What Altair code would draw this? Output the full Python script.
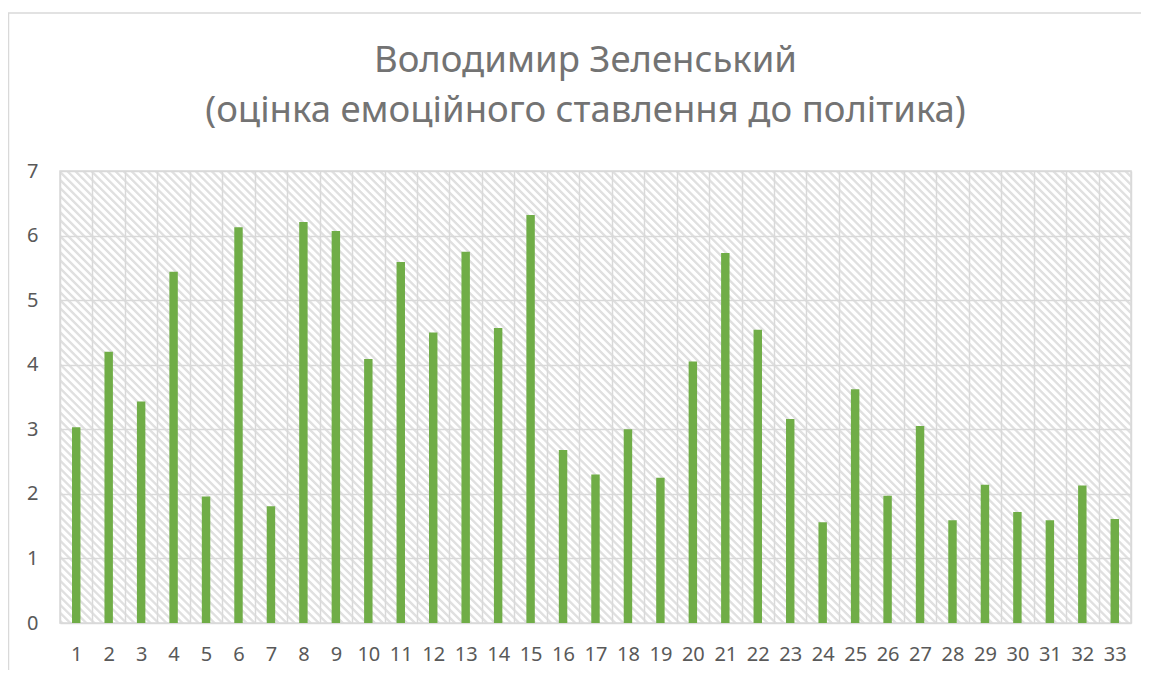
import math
import altair as alt
import pandas as pd

# ---- data ----
categories = [str(i) for i in range(1, 34)]
scores = [3.03, 4.20, 3.43, 5.44, 1.96, 6.13, 1.81, 6.21, 6.07, 4.09,
          5.59, 4.50, 5.75, 4.57, 6.32, 2.68, 2.30, 3.00, 2.25, 4.05,
          5.73, 4.54, 3.16, 1.56, 3.62, 1.97, 3.05, 1.59, 2.14, 1.72,
          1.59, 2.13, 1.61]
y_ticks = [0, 1, 2, 3, 4, 5, 6, 7]
title_lines = ["Володимир Зеленський", "(оцінка емоційного ставлення до політика)"]

W, H = 1071, 452
FONT = "Noto Sans"
GRID = "#d9d9d9"
TEXT = "#595959"


def hatch_expr(w, h, period=5.66, ink="#e0e0e0", paper="#ffffff"):
    """Diagonal '\\' stripes as a repeating linear gradient (objectBoundingBox units)."""
    t = (1 / h + 1 / w) / (1 / h ** 2 + 1 / w ** 2)
    x2 = t / h
    y2 = 1 - t / w
    length = (w + h) / math.sqrt(2)
    n = int(round(length / period))
    stops = []
    for k in range(n):
        o = k / n
        for frac, col in ((0.0, paper), (0.15, ink), (0.42, ink), (0.57, paper)):
            stops.append("{offset:%.6f,color:'%s'}" % (o + frac / n, col))
    stops.append("{offset:1,color:'%s'}" % paper)
    return "{gradient:'linear',x1:0,y1:1,x2:%.6f,y2:%.6f,stops:[%s]}" % (
        x2, y2, ",".join(stops))


df = pd.DataFrame({"n": categories, "score": scores})

bars = alt.Chart(df).mark_bar(
    color="#70ad47", width=alt.RelativeBandSize(band=0.26)
).encode(
    x=alt.X(
        "n:N",
        sort=categories,
        scale=alt.Scale(paddingInner=0, paddingOuter=0),
        axis=alt.Axis(
            title=None, labelAngle=0, ticks=False, domain=False, grid=True,
            tickBand="extent", gridColor=GRID, gridWidth=1.5,
            labelFont=FONT, labelFontSize=20, labelColor=TEXT, labelPadding=21,
        ),
    ),
    y=alt.Y(
        "score:Q",
        scale=alt.Scale(domain=[0, 7], nice=False),
        axis=alt.Axis(
            title=None, values=y_ticks, ticks=False, domain=False, grid=True,
            gridColor=GRID, gridWidth=1.5,
            labelFont=FONT, labelFontSize=20, labelColor=TEXT, labelPadding=22,
        ),
    ),
)

frame = alt.Chart(alt.Data(values=[{"k": 0}])).mark_rect(
    fillOpacity=0, stroke=GRID, strokeWidth=1.5
).encode(
    x=alt.value(-51.5), x2=alt.value(1300), y=alt.value(-158), y2=alt.value(800)
)

chart = alt.layer(frame, bars).properties(
    width=W,
    height=H,
    autosize=alt.AutoSizeParams(type="none"),
    padding={"left": 52, "top": 163, "right": 10, "bottom": 47},
    title=alt.TitleParams(
        text=title_lines, font=FONT, fontSize=36.5, fontWeight="normal",
        color="#737373", anchor="middle", frame="group", baseline="bottom",
        lineHeight=50, offset=0, dy=154, dx=-10,
    ),
).configure_view(
    fill=alt.ExprRef(expr=hatch_expr(W, H)), stroke=GRID, strokeWidth=1.5
)

chart.save("out.html", embed_options={"renderer": "svg", "actions": False})
